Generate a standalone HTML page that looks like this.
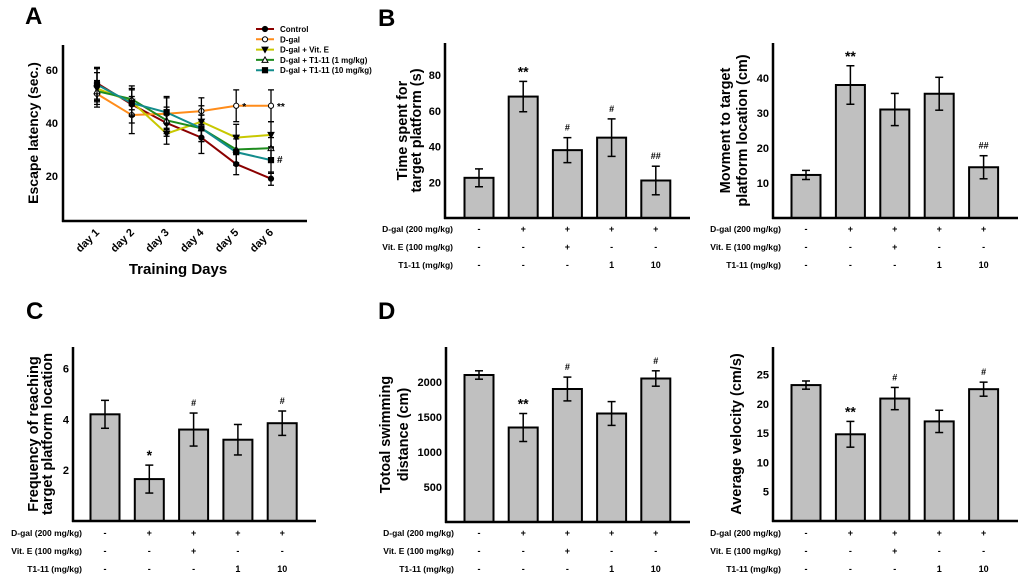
<!DOCTYPE html>
<html><head><meta charset="utf-8"><style>
body{margin:0;background:#fff}
svg{display:block;font-family:"Liberation Sans",Arial,sans-serif;font-weight:bold}
</style></head><body>
<svg id="fig" width="1020" height="576" viewBox="0 0 1020 576">
<text x="25" y="24" font-size="24">A</text>
<text x="378" y="26" font-size="24">B</text>
<text x="26" y="319" font-size="24">C</text>
<text x="378" y="319" font-size="24">D</text>
</svg>
<script>
const NS="http://www.w3.org/2000/svg";
const svg=document.getElementById('fig');
function mk(tag,a,parent,txt){const e=document.createElementNS(NS,tag);for(const k in a)e.setAttribute(k,a[k]);if(txt!==undefined)e.textContent=txt;(parent||svg).appendChild(e);return e;}

// ---------- Panel A data ----------
const days=["day 1","day 2","day 3","day 4","day 5","day 6"];
const aTicks=[20,40,60];
const seriesNames=["Control","D-gal","D-gal + Vit. E","D-gal + T1-11 (1 mg/kg)","D-gal + T1-11 (10 mg/kg)"];
const ctrlVals=[55,47,40,34.5,24.5,19];
const ctrlErr=[6,7,5,6,4,2.5];
const dgalVals=[51,43,43.5,44.5,46.5,46.5];
const dgalErr=[5,7,6,5,6,6];
const vitVals=[53,48,36,40.5,34.5,35.5];
const vitErr=[6,5,4,6,5,5];
const t1Vals=[52,49,41,38,30,30.5];
const t1Err=[4,4,5,5,5,4];
const t10Vals=[54.5,47.5,44,38,29,26];
const t10Err=[6,5,6,5,5,5];
const aSig=[{s:1,d:4,t:"*"},{s:1,d:5,t:"**"},{s:4,d:5,t:"#"}];

const ax0=63,ay0=221;
const ay=v=>229-2.65*v;
const axd=i=>97+i*34.8;
mk('line',{x1:ax0,y1:45,x2:ax0,y2:ay0+1,stroke:'#000','stroke-width':2.5});
mk('line',{x1:ax0-1,y1:ay0,x2:307,y2:ay0,stroke:'#000','stroke-width':2.5});
aTicks.forEach(t=>{
  const e=mk('text',{x:ax0-5,y:ay(t)+4,'font-size':11,'text-anchor':'end'},svg,t);
  
  
});
days.forEach((d,i)=>{
  const e=mk('text',{x:axd(i)+3,y:233,'font-size':11,'text-anchor':'end',transform:`rotate(-45 ${axd(i)+3} 233)`},svg,d);
  
  
});
{const e=mk('text',{x:178,y:274,'font-size':15,'text-anchor':'middle'},svg,'Training Days');
}
{const e=mk('text',{x:38,y:133,'font-size':14,'text-anchor':'middle',transform:'rotate(-90 38 133)'},svg,'Escape latency (sec.)');
}

const aSeries=[
 {v:ctrlVals,e:ctrlErr,c:'#8b0000',m:'circle',fill:'#000'},
 {v:dgalVals,e:dgalErr,c:'#ff8c1a',m:'circle',fill:'#fff'},
 {v:vitVals,e:vitErr,c:'#c8c800',m:'tdown',fill:'#000'},
 {v:t1Vals,e:t1Err,c:'#1e8c1e',m:'tup',fill:'#fff'},
 {v:t10Vals,e:t10Err,c:'#138c8c',m:'square',fill:'#000'}];
function marker(m,x,y,fill,g){
  if(m==='circle')return mk('circle',{cx:x,cy:y,r:2.6,fill:fill,stroke:'#000','stroke-width':1},g);
  if(m==='square')return mk('rect',{x:x-2.6,y:y-2.6,width:5.2,height:5.2,fill:fill,stroke:'#000','stroke-width':1},g);
  if(m==='tdown')return mk('polygon',{points:`${x-3},${y-2.5} ${x+3},${y-2.5} ${x},${y+3}`,fill:fill,stroke:'#000','stroke-width':1},g);
  return mk('polygon',{points:`${x-3},${y+2.5} ${x+3},${y+2.5} ${x},${y-3}`,fill:fill,stroke:'#000','stroke-width':1},g);
}
aSeries.forEach((s,si)=>{
  const g=mk('g',{});
  
  
  const pts=s.v.map((v,i)=>axd(i)+','+ay(v)).join(' ');
  mk('polyline',{points:pts,fill:'none',stroke:s.c,'stroke-width':2},g);
  s.v.forEach((v,i)=>{
    const x=axd(i),y1=ay(v+s.e[i]),y2=ay(v-s.e[i]);
    mk('line',{x1:x,y1:y1,x2:x,y2:y2,stroke:'#000','stroke-width':1.3},g);
    mk('line',{x1:x-3,y1:y1,x2:x+3,y2:y1,stroke:'#000','stroke-width':1.3},g);
    mk('line',{x1:x-3,y1:y2,x2:x+3,y2:y2,stroke:'#000','stroke-width':1.3},g);
  });
  s.v.forEach((v,i)=>{const p=marker(s.m,axd(i),ay(v),s.fill,g);
    });
});
aSig.forEach(o=>{
  const v=aSeries[o.s].v[o.d];
  const e=mk('text',{x:axd(o.d)+6,y:ay(v)+(o.t==='#'?3:4),'font-size':10},svg,o.t);
  
});
seriesNames.forEach((n,i)=>{
  const g=mk('g',{});
  
  
  const y=29+i*10.3,s=aSeries[i];
  mk('line',{x1:256,y1:y,x2:274,y2:y,stroke:s.c,'stroke-width':2},g);
  marker(s.m,265,y,s.fill,g);
  mk('text',{x:280,y:y+3,'font-size':8},g,n);
});

// ---------- Bar panels ----------
const groupRowLabels=["D-gal (200 mg/kg)","Vit. E (100 mg/kg)","T1-11 (mg/kg)"];
const rowDgal=["-","+","+","+","+"];
const rowVit=["-","-","+","-","-"];
const rowT1=["-","-","-","1","10"];

const b1Vals=[22.5,68,38,45,21];
const b1Err=[5,8.5,7,10.5,8];
const b1Sig=["","**","#","#","##"];
const b1Ticks=[20,40,60,80];

const b2Vals=[12.3,38,31,35.5,14.5];
const b2Err=[1.3,5.5,4.6,4.7,3.3];
const b2Sig=["","**","","","##"];
const b2Ticks=[10,20,30,40];

const cVals=[4.2,1.65,3.6,3.2,3.85];
const cErr=[0.55,0.55,0.65,0.6,0.48];
const cSig=["","*","#","","#"];
const cTicks=[2,4,6];

const d1Vals=[2100,1350,1900,1550,2050];
const d1Err=[60,200,170,170,110];
const d1Sig=["","**","#","","#"];
const d1Ticks=[500,1000,1500,2000];

const d2Vals=[23.2,14.8,20.9,17,22.5];
const d2Err=[0.7,2.2,1.9,1.9,1.2];
const d2Sig=["","**","#","","#"];
const d2Ticks=[5,10,15,20,25];

function barPanel(p){
  const g=mk('g',{});
  
  
  const y=v=>p.y0-(v/p.max)*(p.y0-p.top);
  const x=i=>p.c0+i*p.step;
  p.vals.forEach((v,i)=>{
    const r=mk('rect',{x:x(i)-14.5,y:y(v),width:29,height:p.y0-y(v),fill:'#c0c0c0',stroke:'#000','stroke-width':2},g);
    
    
    const e=p.err[i],y1=y(v+e),y2=y(v-e);
    mk('line',{x1:x(i),y1:y1,x2:x(i),y2:y2,stroke:'#000','stroke-width':1.5},g);
    mk('line',{x1:x(i)-4,y1:y1,x2:x(i)+4,y2:y1,stroke:'#000','stroke-width':1.5},g);
    mk('line',{x1:x(i)-4,y1:y2,x2:x(i)+4,y2:y2,stroke:'#000','stroke-width':1.5},g);
    if(p.sig[i]){
      const s=mk('text',{x:x(i),y:y1-(p.sig[i][0]==='*'?5:7),'font-size':p.sig[i][0]==='*'?14:9,'text-anchor':'middle'},g,p.sig[i]);
      
      
    }
  });
  mk('line',{x1:p.x0,y1:p.top,x2:p.x0,y2:p.y0+1,stroke:'#000','stroke-width':2.5},g);
  mk('line',{x1:p.x0-1,y1:p.y0,x2:p.x1,y2:p.y0,stroke:'#000','stroke-width':2.5},g);
  p.ticks.forEach(t=>{
    const e=mk('text',{x:p.x0-4,y:y(t)+4,'font-size':11,'text-anchor':'end'},g,t);
    
    
  });
  const rows=[rowDgal,rowVit,rowT1];
  rows.forEach((row,ri)=>{
    const ry=p.rowY+ri*18;
    const l=mk('text',{x:p.lblX,y:ry,'font-size':8.5,'text-anchor':'end'},g,groupRowLabels[ri]);
    
    
    row.forEach((s,i)=>{mk('text',{x:x(i),y:ry,'font-size':9,'text-anchor':'middle'},g,s);});
  });
  const cy=(p.top+p.y0)/2;
  p.title.forEach((t,ti)=>{
    const tx=p.titleX+ti*p.gap;
    const e=mk('text',{x:tx,y:cy,'font-size':14.5,'font-weight':'bold','text-anchor':'middle',transform:`rotate(-90 ${tx} ${cy})`},g,t);
    
    
  });
}
barPanel({name:'panel-b-time-spent',vals:b1Vals,err:b1Err,sig:b1Sig,ticks:b1Ticks,max:98,x0:445,x1:690,y0:218,top:43,c0:479,step:44.2,lblX:453,rowY:232,title:['Time spent for','target platform (s)'],titleX:407,gap:14});
barPanel({name:'panel-b-movement',vals:b2Vals,err:b2Err,sig:b2Sig,ticks:b2Ticks,max:50,x0:773,x1:1018,y0:218,top:43,c0:806,step:44.4,lblX:781,rowY:232,title:['Movment to target','platform location (cm)'],titleX:730,gap:17});
barPanel({name:'panel-c-frequency',vals:cVals,err:cErr,sig:cSig,ticks:cTicks,max:6.85,x0:73,x1:316,y0:521,top:347,c0:105,step:44.3,lblX:82,rowY:536,title:['Frequency of  reaching','target platform location'],titleX:38,gap:14});
barPanel({name:'panel-d-distance',vals:d1Vals,err:d1Err,sig:d1Sig,ticks:d1Ticks,max:2500,x0:446,x1:690,y0:522,top:347,c0:479,step:44.2,lblX:454,rowY:536,title:['Totoal swimming','distance (cm)'],titleX:390,gap:18});
barPanel({name:'panel-d-velocity',vals:d2Vals,err:d2Err,sig:d2Sig,ticks:d2Ticks,max:29.7,x0:773,x1:1018,y0:521,top:347,c0:806,step:44.4,lblX:781,rowY:536,title:['Average velocity (cm/s)'],titleX:741,gap:0});
</script>
</body></html>
